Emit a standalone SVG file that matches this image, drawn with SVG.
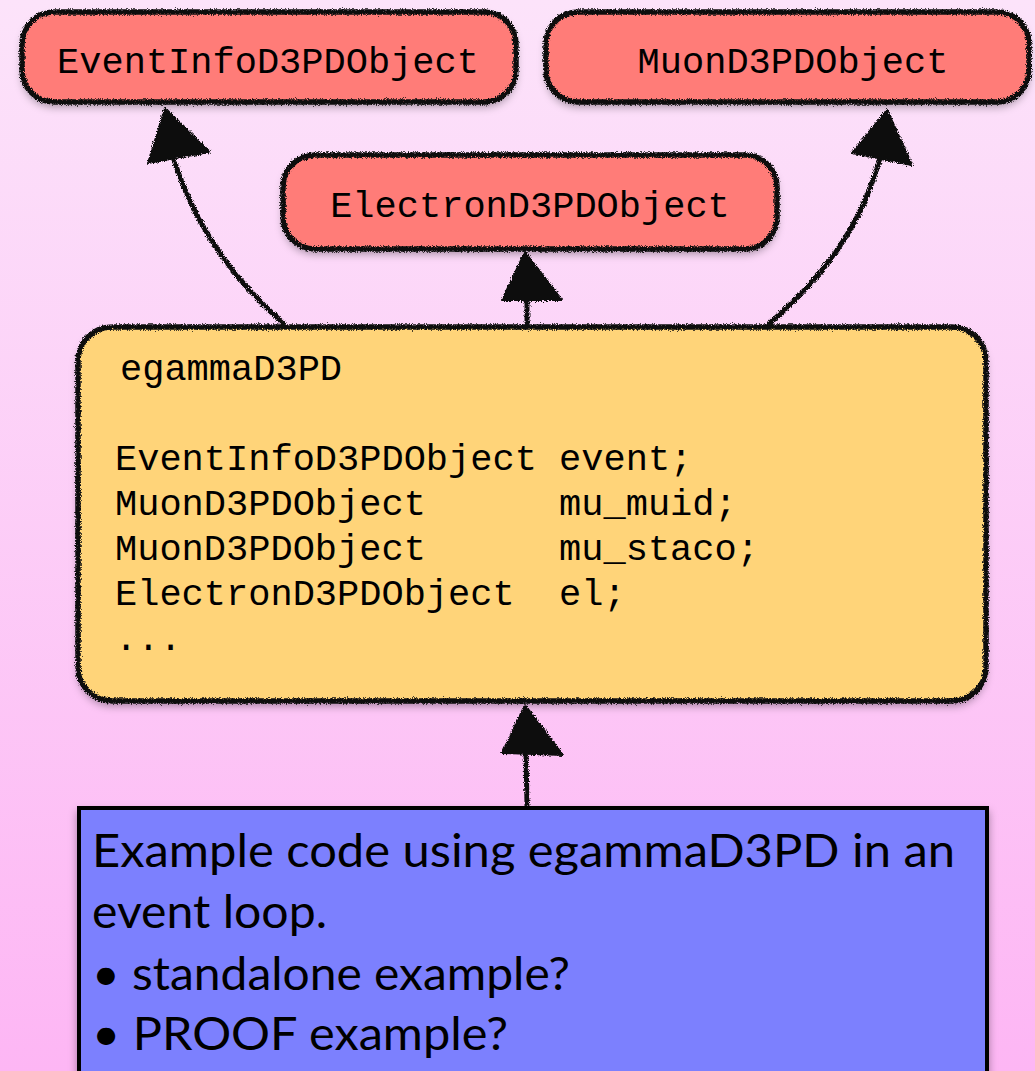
<svg xmlns="http://www.w3.org/2000/svg" width="1035" height="1071" viewBox="0 0 1035 1071">
<defs>
<linearGradient id="bg" x1="0" y1="0" x2="0" y2="1">
<stop offset="0" stop-color="#fce3fa"/>
<stop offset="1" stop-color="#fdb6f4"/>
</linearGradient>
<filter id="shadow" x="-10%" y="-20%" width="120%" height="150%">
<feDropShadow dx="0" dy="5" stdDeviation="4" flood-color="#000" flood-opacity="0.35"/>
</filter>
<filter id="rough" x="-10%" y="-20%" width="120%" height="140%">
<feTurbulence type="fractalNoise" baseFrequency="1.2" numOctaves="2" seed="3" result="n"/>
<feDisplacementMap in="SourceGraphic" in2="n" scale="5" xChannelSelector="R" yChannelSelector="G"/>
</filter>
<style>
.pill{fill:#ff7c78;}
.edge{fill:none;stroke:#111;stroke-width:5.5;}
.mono{font-family:"Liberation Mono","Courier New",monospace;font-size:37px;fill:#000;}
.sans{font-family:Lato,"Open Sans",sans-serif;font-size:46px;fill:#000;}
.conn{fill:none;stroke:#111;stroke-width:5;stroke-linecap:round;}
.head{fill:#111;stroke:#111;stroke-width:2;stroke-linejoin:round;}
</style>
</defs>
<rect x="0" y="0" width="1035" height="1071" fill="url(#bg)"/>

<g id="connectors" filter="url(#rough)">
<path class="conn" d="M283,323 Q205,255 174,160"/>
<polygon class="head" points="165,108 148,163 210,152"/>
<path class="conn" d="M770,323 C820,280 860,230 880,158"/>
<polygon class="head" points="887,110 852,153 912,165"/>
<path class="conn" d="M527,323 L527,295"/>
<polygon class="head" points="525,252 502,300 562,300"/>
<path class="conn" d="M527,806 L526,752"/>
<polygon class="head" points="525,705 502,753 563,755"/>
</g>

<g id="node-eventinfo">
<rect class="pill" x="22" y="12" width="494" height="90" rx="32" filter="url(#shadow)"/>
<rect class="edge" x="22" y="12" width="494" height="90" rx="32" filter="url(#rough)"/>
<text class="mono" x="268" y="73" text-anchor="middle">EventInfoD3PDObject</text>
</g>

<g id="node-muon">
<rect class="pill" x="546" y="12" width="483" height="90" rx="32" filter="url(#shadow)"/>
<rect class="edge" x="546" y="12" width="483" height="90" rx="32" filter="url(#rough)"/>
<text class="mono" x="793" y="73" text-anchor="middle">MuonD3PDObject</text>
</g>

<g id="node-electron">
<rect class="pill" x="283" y="155" width="494" height="94" rx="32" filter="url(#shadow)"/>
<rect class="edge" x="283" y="155" width="494" height="94" rx="32" filter="url(#rough)"/>
<text class="mono" x="530" y="217" text-anchor="middle">ElectronD3PDObject</text>
</g>

<g id="node-egamma">
<rect x="78" y="327" width="908" height="374" rx="34" fill="#ffd479" filter="url(#shadow)"/>
<rect class="edge" x="78" y="327" width="908" height="374" rx="34" filter="url(#rough)"/>
<text class="mono" x="120" y="380">egammaD3PD</text>
<text class="mono" x="115" y="470" xml:space="preserve">EventInfoD3PDObject event;</text>
<text class="mono" x="115" y="515" xml:space="preserve">MuonD3PDObject      mu_muid;</text>
<text class="mono" x="115" y="560" xml:space="preserve">MuonD3PDObject      mu_staco;</text>
<text class="mono" x="115" y="605" xml:space="preserve">ElectronD3PDObject  el;</text>
<text class="mono" x="115" y="650">...</text>
</g>

<g id="node-example">
<rect x="79" y="808" width="908" height="300" fill="#7b80fe" stroke="#000" stroke-width="4" filter="url(#shadow)"/>
<text class="sans" x="92" y="867" textLength="863" lengthAdjust="spacingAndGlyphs">Example code using egammaD3PD in an</text>
<text class="sans" x="92" y="928" textLength="235" lengthAdjust="spacingAndGlyphs">event loop.</text>
<text class="sans" x="92" y="990" textLength="478" lengthAdjust="spacingAndGlyphs">• standalone example?</text>
<text class="sans" x="92" y="1050" textLength="416" lengthAdjust="spacingAndGlyphs">• PROOF example?</text>
</g>
</svg>
